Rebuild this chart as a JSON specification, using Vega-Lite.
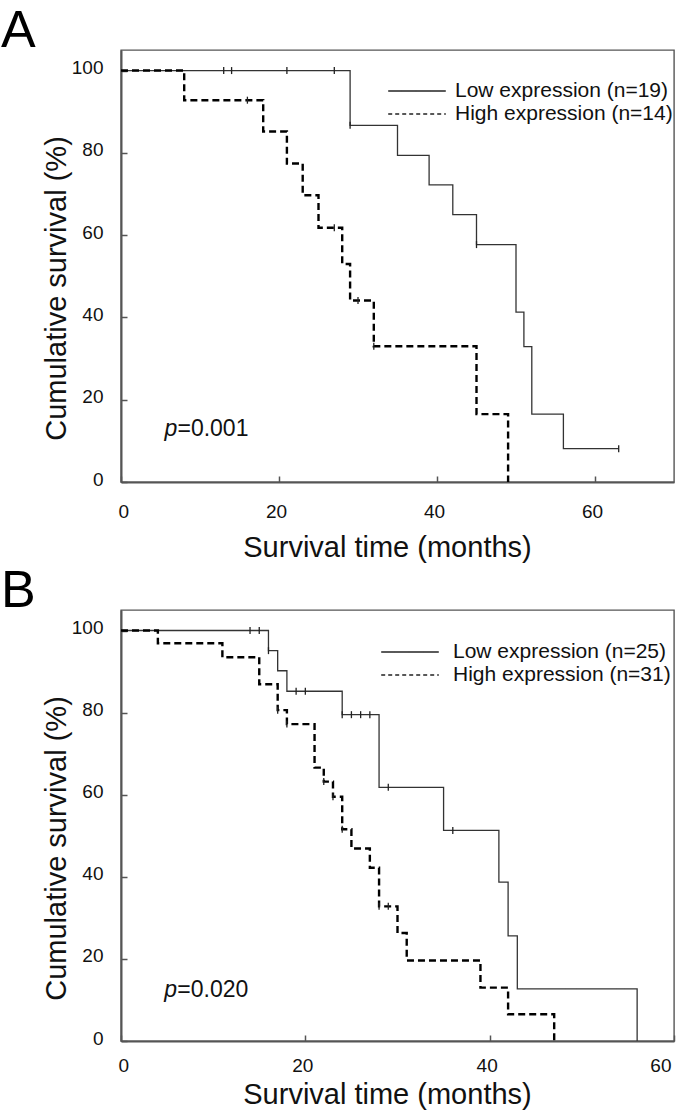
{
  "$schema": "https://vega.github.io/schema/vega-lite/v6.json",
  "background": "white",
  "padding": {"left": 0, "top": 4, "right": 0, "bottom": 0},
  "config": {
    "font": "Liberation Sans",
    "view": {"stroke": "#555", "strokeWidth": 1.4},
    "axis": {
      "grid": false,
      "domainColor": "#555",
      "domainWidth": 2,
      "tickColor": "#555",
      "tickWidth": 1.5,
      "tickSize": -6,
      "labelFont": "Liberation Sans",
      "labelFontSize": 19,
      "labelColor": "#111",
      "titleFont": "Liberation Sans",
      "titleFontSize": 29,
      "titleFontWeight": "normal",
      "titleColor": "#111"
    },
    "axisX": {"labelBaseline": "alphabetic", "labelPadding": 41, "labelOffset": -3, "titleBaseline": "alphabetic", "titleY": 74, "titleX": 266, "titleAnchor": "middle"},
    "axisY": {"labelBaseline": "alphabetic", "labelOffset": 3, "labelPadding": 24, "titleBaseline": "alphabetic", "titleAngle": -90, "titleX": -56, "titleY": 238, "titleAlign": "center"},
    "legend": {
      "orient": "none",
      "title": null,
      "symbolType": "M-2.4,0L2.4,0",
      "symbolSize": 576,
      "symbolStrokeWidth": 1.3,
      "symbolStrokeColor": "#222",
      "symbolFillColor": "transparent",
      "labelFont": "Liberation Sans",
      "labelFontSize": 21,
      "labelColor": "#111",
      "labelOffset": 24,
      "labelLimit": 400,
      "rowPadding": 0,
      "padding": 0
    },
    "title": {"font": "Liberation Sans", "fontSize": 52, "fontWeight": "normal", "color": "#000", "anchor": "start", "frame": "group", "baseline": "alphabetic", "offset": -8, "dx": -120}
  },
  "datasets": {
    "aLine": [
      {"g": "Low expression (n=19)", "t": 0, "s": 100},
      {"g": "Low expression (n=19)", "t": 29, "s": 86.7},
      {"g": "Low expression (n=19)", "t": 35, "s": 79.4},
      {"g": "Low expression (n=19)", "t": 39, "s": 72.2},
      {"g": "Low expression (n=19)", "t": 42, "s": 65.0},
      {"g": "Low expression (n=19)", "t": 45, "s": 57.7},
      {"g": "Low expression (n=19)", "t": 50, "s": 41.3},
      {"g": "Low expression (n=19)", "t": 51, "s": 32.9},
      {"g": "Low expression (n=19)", "t": 52, "s": 16.5},
      {"g": "Low expression (n=19)", "t": 56, "s": 8.1},
      {"g": "Low expression (n=19)", "t": 63, "s": 8.1},
      {"g": "High expression (n=14)", "t": 0, "s": 100},
      {"g": "High expression (n=14)", "t": 8, "s": 92.8},
      {"g": "High expression (n=14)", "t": 18, "s": 85.2},
      {"g": "High expression (n=14)", "t": 21, "s": 77.4},
      {"g": "High expression (n=14)", "t": 23, "s": 69.7},
      {"g": "High expression (n=14)", "t": 25, "s": 61.8},
      {"g": "High expression (n=14)", "t": 28, "s": 53.0},
      {"g": "High expression (n=14)", "t": 29, "s": 44.1},
      {"g": "High expression (n=14)", "t": 32, "s": 33.0},
      {"g": "High expression (n=14)", "t": 45, "s": 16.5},
      {"g": "High expression (n=14)", "t": 49, "s": 0}
    ],
    "aCens": [
      {"g": "Low", "t": 13, "s": 100},
      {"g": "Low", "t": 14, "s": 100},
      {"g": "Low", "t": 21, "s": 100},
      {"g": "Low", "t": 27, "s": 100},
      {"g": "Low", "t": 29, "s": 86.7},
      {"g": "Low", "t": 45, "s": 57.7},
      {"g": "Low", "t": 63, "s": 8.1},
      {"g": "High", "t": 16, "s": 92.8},
      {"g": "High", "t": 27, "s": 61.8},
      {"g": "High", "t": 30, "s": 44.1},
      {"g": "High", "t": 32, "s": 33.0}
    ],
    "bLine": [
      {"g": "Low expression (n=25)", "t": 0, "s": 100},
      {"g": "Low expression (n=25)", "t": 16, "s": 95.1},
      {"g": "Low expression (n=25)", "t": 17, "s": 90.2},
      {"g": "Low expression (n=25)", "t": 18, "s": 85.2},
      {"g": "Low expression (n=25)", "t": 24, "s": 79.5},
      {"g": "Low expression (n=25)", "t": 28, "s": 61.8},
      {"g": "Low expression (n=25)", "t": 35, "s": 51.3},
      {"g": "Low expression (n=25)", "t": 41, "s": 38.7},
      {"g": "Low expression (n=25)", "t": 42, "s": 25.6},
      {"g": "Low expression (n=25)", "t": 43, "s": 12.7},
      {"g": "Low expression (n=25)", "t": 56, "s": 0},
      {"g": "High expression (n=31)", "t": 0, "s": 100},
      {"g": "High expression (n=31)", "t": 4, "s": 96.9},
      {"g": "High expression (n=31)", "t": 11, "s": 93.5},
      {"g": "High expression (n=31)", "t": 15, "s": 86.9},
      {"g": "High expression (n=31)", "t": 17, "s": 80.6},
      {"g": "High expression (n=31)", "t": 18, "s": 77.2},
      {"g": "High expression (n=31)", "t": 21, "s": 66.6},
      {"g": "High expression (n=31)", "t": 22, "s": 63.2},
      {"g": "High expression (n=31)", "t": 23, "s": 59.5},
      {"g": "High expression (n=31)", "t": 24, "s": 51.6},
      {"g": "High expression (n=31)", "t": 25, "s": 46.9},
      {"g": "High expression (n=31)", "t": 27, "s": 42.2},
      {"g": "High expression (n=31)", "t": 28, "s": 32.8},
      {"g": "High expression (n=31)", "t": 30, "s": 26.3},
      {"g": "High expression (n=31)", "t": 31, "s": 19.6},
      {"g": "High expression (n=31)", "t": 39, "s": 13.0},
      {"g": "High expression (n=31)", "t": 42, "s": 6.5},
      {"g": "High expression (n=31)", "t": 47, "s": 0}
    ],
    "bCens": [
      {"g": "Low", "t": 14, "s": 100},
      {"g": "Low", "t": 15, "s": 100},
      {"g": "Low", "t": 16, "s": 95.1},
      {"g": "Low", "t": 19, "s": 85.2},
      {"g": "Low", "t": 20, "s": 85.2},
      {"g": "Low", "t": 24, "s": 79.5},
      {"g": "Low", "t": 25, "s": 79.5},
      {"g": "Low", "t": 26, "s": 79.5},
      {"g": "Low", "t": 27, "s": 79.5},
      {"g": "Low", "t": 29, "s": 61.8},
      {"g": "Low", "t": 36, "s": 51.3},
      {"g": "High", "t": 17, "s": 80.6},
      {"g": "High", "t": 18, "s": 77.2},
      {"g": "High", "t": 22, "s": 63.2},
      {"g": "High", "t": 23, "s": 59.5},
      {"g": "High", "t": 24, "s": 51.6},
      {"g": "High", "t": 28, "s": 32.8},
      {"g": "High", "t": 29, "s": 32.8}
    ]
  },
  "vconcat": [
    {
      "title": {"text": "A"},
      "width": 553,
      "height": 432,
      "layer": [
        {
          "data": {"name": "aLine"},
          "transform": [{"filter": "datum.g == 'Low expression (n=19)'"}],
          "mark": {"type": "line", "interpolate": "step-after", "stroke": "#333", "strokeWidth": 1.3},
          "encoding": {
            "x": {"field": "t", "type": "quantitative", "scale": {"domain": [0, 70], "nice": false, "zero": false},
                  "axis": {"values": [0, 20, 40, 60], "title": "Survival time (months)"}},
            "y": {"field": "s", "type": "quantitative", "scale": {"domain": [0, 105], "nice": false},
                  "axis": {"values": [0, 20, 40, 60, 80, 100], "title": "Cumulative survival (%)"}},
            "strokeDash": {"field": "g", "type": "nominal",
                  "scale": {"domain": ["Low expression (n=19)", "High expression (n=14)"], "range": [[1, 0], [4, 3]]},
                  "legend": {"legendX": 283, "legendY": 28, "labelOffset": 25}}
          }
        },
        {
          "data": {"name": "aLine"},
          "transform": [{"filter": "datum.g == 'High expression (n=14)'"}],
          "mark": {"type": "line", "interpolate": "step-after", "stroke": "#000", "strokeWidth": 2.4, "strokeDash": [7, 4]},
          "encoding": {
            "x": {"field": "t", "type": "quantitative"},
            "y": {"field": "s", "type": "quantitative"}
          }
        },
        {
          "data": {"name": "aCens"},
          "mark": {"type": "point", "shape": "M0,-1L0,1", "size": 49, "filled": false, "stroke": "#222", "strokeWidth": 1.3, "opacity": 1},
          "encoding": {
            "x": {"field": "t", "type": "quantitative"},
            "y": {"field": "s", "type": "quantitative"}
          }
        },
        {
          "data": {"values": [{}]},
          "mark": {"type": "text", "text": "p", "fontStyle": "italic", "fontSize": 23, "align": "left", "baseline": "alphabetic", "color": "#111"},
          "encoding": {"x": {"datum": 5.5}, "y": {"datum": 11.2}}
        },
        {
          "data": {"values": [{}]},
          "mark": {"type": "text", "text": "=0.001", "fontSize": 23, "align": "left", "baseline": "alphabetic", "dx": 13, "color": "#111"},
          "encoding": {"x": {"datum": 5.5}, "y": {"datum": 11.2}}
        }
      ]
    },
    {
      "title": {"text": "B"},
      "width": 553,
      "height": 431,
      "layer": [
        {
          "data": {"name": "bLine"},
          "transform": [{"filter": "datum.g == 'Low expression (n=25)'"}],
          "mark": {"type": "line", "interpolate": "step-after", "stroke": "#333", "strokeWidth": 1.3},
          "encoding": {
            "x": {"field": "t", "type": "quantitative", "scale": {"domain": [0, 60], "nice": false, "zero": false},
                  "axis": {"values": [0, 20, 40, 60], "title": "Survival time (months)", "labelPadding": 36, "titleY": 62}},
            "y": {"field": "s", "type": "quantitative", "scale": {"domain": [0, 105], "nice": false},
                  "axis": {"values": [0, 20, 40, 60, 80, 100], "title": "Cumulative survival (%)"}},
            "strokeDash": {"field": "g", "type": "nominal",
                  "scale": {"domain": ["Low expression (n=25)", "High expression (n=31)"], "range": [[1, 0], [4, 3]]},
                  "legend": {"legendX": 276, "legendY": 29, "labelOffset": 30}}
          }
        },
        {
          "data": {"name": "bLine"},
          "transform": [{"filter": "datum.g == 'High expression (n=31)'"}],
          "mark": {"type": "line", "interpolate": "step-after", "stroke": "#000", "strokeWidth": 2.4, "strokeDash": [7, 4]},
          "encoding": {
            "x": {"field": "t", "type": "quantitative"},
            "y": {"field": "s", "type": "quantitative"}
          }
        },
        {
          "data": {"name": "bCens"},
          "mark": {"type": "point", "shape": "M0,-1L0,1", "size": 49, "filled": false, "stroke": "#222", "strokeWidth": 1.3, "opacity": 1},
          "encoding": {
            "x": {"field": "t", "type": "quantitative"},
            "y": {"field": "s", "type": "quantitative"}
          }
        },
        {
          "data": {"values": [{}]},
          "mark": {"type": "text", "text": "p", "fontStyle": "italic", "fontSize": 23, "align": "left", "baseline": "alphabetic", "color": "#111"},
          "encoding": {"x": {"datum": 4.7}, "y": {"datum": 10.6}}
        },
        {
          "data": {"values": [{}]},
          "mark": {"type": "text", "text": "=0.020", "fontSize": 23, "align": "left", "baseline": "alphabetic", "dx": 13, "color": "#111"},
          "encoding": {"x": {"datum": 4.7}, "y": {"datum": 10.6}}
        }
      ]
    }
  ],
  "spacing": 128,
  "bounds": "flush",
  "resolve": {
    "scale": {"x": "independent", "y": "independent", "strokeDash": "independent"},
    "legend": {"strokeDash": "independent"}
  }
}
